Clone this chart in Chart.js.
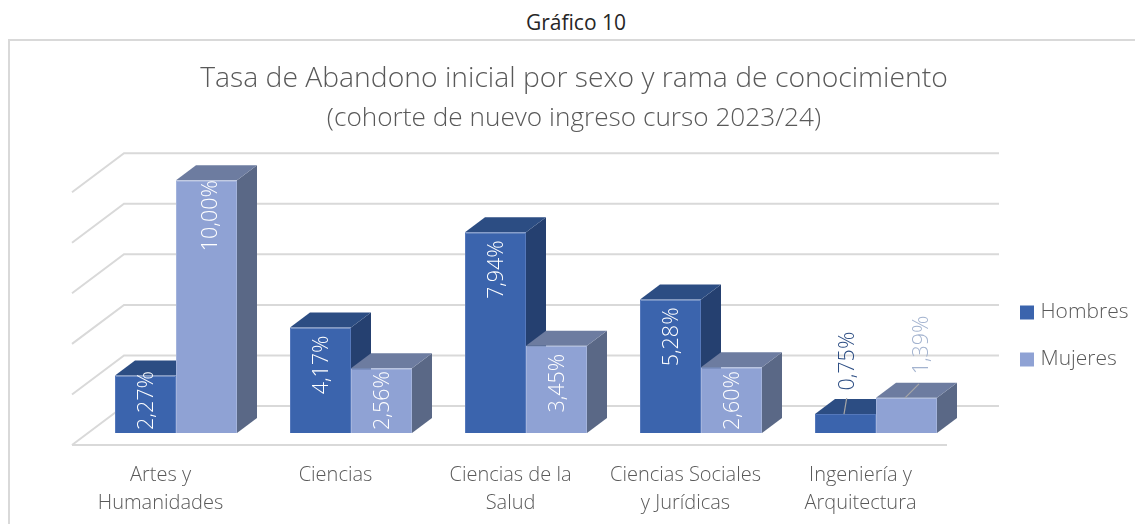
<!DOCTYPE html>
<html lang="es">
<head>
<meta charset="utf-8">
<title>Gráfico 10</title>
<script src="https://cdn.jsdelivr.net/npm/chart.js@4"></script>
<style>
  html, body { margin: 0; padding: 0; background: #fff; overflow: hidden; width: 1135px; height: 524px; }
  #caption { position: absolute; left: 476px; width: 200px; top: 8px; text-align: center; font: 21px "Open Sans", sans-serif; color: #262626; }
  #frame { position: absolute; left: 8px; top: 39px; width: 1127px; height: 485px; box-sizing: border-box; border-left: 2px solid #d9d9d9; border-top: 2px solid #d9d9d9; }
  canvas { position: absolute; left: 0; top: 0; }
</style>
</head>
<body>
<div id="frame"></div>
<div id="caption">Gráfico 10</div>
<canvas id="c" width="1135" height="524"></canvas>
<script>
const categories = [["Artes y", "Humanidades"], "Ciencias", ["Ciencias de la", "Salud"], ["Ciencias Sociales", "y Jurídicas"], ["Ingeniería y", "Arquitectura"]];
const hombres = [2.27, 4.17, 7.94, 5.28, 0.75];
const mujeres = [10.00, 2.56, 3.45, 2.60, 1.39];
const axisMax = 10;
const axisStep = 2;
const seriesNames = ["Hombres", "Mujeres"];
const titleText = "Tasa de Abandono inicial por sexo y rama de conocimiento";
const subtitleText = "(cohorte de nuevo ingreso curso 2023/24)";

const FONT = '"Open Sans", sans-serif';
const GRID = "#d9d9d9";
const front = ["#3b64ad", "#8fa2d4"];
const edge = ["#5578bb", "#a3b3dc"];
const topFace = ["#2c4d83", "#6d7ca0"];
const sideFace = ["#254070", "#5a6886"];
const outsideText = ["#2c4d83", "#a3b3cf"];
const DEPTH = { x: 20, y: -15 };          // bar depth
const WALL = { x: 35.5, y: -27 };         // bar plane to back wall
const FLOOR = { x: -16.5, y: 12 };        // bar plane to front edge of floor
const LEADER = [{ dx: 2.7, dy: -16, tx: 2.5 }, { dx: 14, dy: -14, tx: 15 }];

function face(ctx, pts, color) {
  ctx.beginPath();
  pts.forEach((p, i) => i ? ctx.lineTo(p[0], p[1]) : ctx.moveTo(p[0], p[1]));
  ctx.closePath();
  ctx.fillStyle = color;
  ctx.fill();
}

const scene3d = {
  id: "scene3d",
  afterLayout(chart) {
    // title blocks are centred on the frame, legend sits right of the plot
    chart.boxes.filter(b => b.position === "top" && b.fullSize).forEach(b => {
      const top = b.options.text === titleText ? 62 : 102.5;
      const h = b.height;
      b.left = 0; b.right = 1148; b.width = 1148;
      b.top = top; b.bottom = top + h;
    });
    const lg = chart.legend;
    lg.left = 998; lg.right = 1135; lg.width = 137;
    lg.top = 276; lg.height = 200; lg.bottom = 476;
  },
  beforeDatasetsDraw(chart) {
    const { ctx, scales: { x, y } } = chart;
    const b = [x.left + WALL.x, x.right + WALL.x];
    const f = [x.left + FLOOR.x, x.right + FLOOR.x];
    ctx.save();
    ctx.strokeStyle = GRID;
    ctx.lineWidth = 2;
    for (let v = 0; v <= axisMax; v += axisStep) {
      const py = y.getPixelForValue(v);
      ctx.beginPath();
      ctx.moveTo(f[0], py + FLOOR.y);
      ctx.lineTo(b[0], py + WALL.y);
      ctx.lineTo(b[1], py + WALL.y);
      ctx.stroke();
    }
    const zero = y.getPixelForValue(0);
    ctx.beginPath();
    ctx.moveTo(f[0], zero + FLOOR.y);
    ctx.lineTo(f[1], zero + FLOOR.y);
    ctx.stroke();
    // tops and sides of both series, left series first; the fronts are drawn over them
    chart.data.datasets.forEach((d, ds) => {
      chart.getDatasetMeta(ds).data.forEach(bar => {
        const { x: cx, y: top, base, width } = bar.getProps(["x", "y", "base", "width"], true);
        const l = cx - width / 2, r = cx + width / 2;
        face(ctx, [[r, top], [r + DEPTH.x, top + DEPTH.y], [r + DEPTH.x, base + DEPTH.y], [r, base]], sideFace[ds]);
        face(ctx, [[l, top], [r, top], [r + DEPTH.x, top + DEPTH.y], [l + DEPTH.x, top + DEPTH.y]], topFace[ds]);
      });
    });
    ctx.restore();
  },
  afterDatasetsDraw(chart) {
    const { ctx } = chart;
    ctx.save();
    ctx.font = "300 21.5px " + FONT;
    ctx.textBaseline = "middle";
    chart.data.datasets.forEach((d, ds) => {
      chart.getDatasetMeta(ds).data.forEach((bar, i) => {
        const { x, y, base } = bar.getProps(["x", "y", "base"], true);
        const v = d.data[i];
        const text = v.toFixed(2).replace(".", ",") + "%";
        const tw = ctx.measureText(text).width;
        let tx = x, bottom;
        if (v < 2) {
          const L = LEADER[ds];
          ctx.strokeStyle = "#a6a6a6";
          ctx.lineWidth = 1.2;
          ctx.beginPath();
          ctx.moveTo(x - 1.5, y);
          ctx.lineTo(x - 1.5 + L.dx, y + L.dy);
          ctx.stroke();
          tx = x + L.tx;
          bottom = y - 23.5;
          ctx.fillStyle = outsideText[ds];
        } else {
          const atMax = v >= axisMax;
          bottom = Math.min(y + (atMax ? 0 : 8) + tw, base - 3);
          ctx.fillStyle = "#ffffff";
          tx = x + (atMax ? 4.5 : 1.5);
        }
        ctx.save();
        ctx.translate(tx, bottom);
        ctx.rotate(-Math.PI / 2);
        ctx.textAlign = "left";
        ctx.fillText(text, 0, 0);
        ctx.restore();
      });
    });
    ctx.restore();
  }
};

new Chart(document.getElementById("c"), {
  type: "bar",
  data: {
    labels: categories,
    datasets: [
      { label: seriesNames[0], data: hombres, backgroundColor: front[0], borderColor: edge[0], borderWidth: 1 },
      { label: seriesNames[1], data: mujeres, backgroundColor: front[1], borderColor: edge[1], borderWidth: 1 }
    ]
  },
  options: {
    responsive: false,
    animation: false,
    layout: { padding: { top: 114.8, left: 88.5, right: 171.5, bottom: 0 } },
    datasets: { bar: { categoryPercentage: 122 / 175, barPercentage: 1 } },
    scales: {
      x: {
        grid: { display: false },
        border: { display: false },
        afterFit(s) { s.height = 91; },
        ticks: { color: "#595959", padding: 20, labelOffset: -15.5, maxRotation: 0, autoSkip: false, font: { family: FONT, size: 20, lineHeight: 1.4, weight: "300" } }
      },
      y: { display: false, min: 0, max: axisMax, ticks: { stepSize: axisStep } }
    },
    plugins: {
      tooltip: { enabled: false },
      title: { display: true, text: titleText, color: "#595959", padding: 0, font: { family: FONT, size: 28.3, weight: "300", lineHeight: 1.2 } },
      subtitle: { display: true, text: subtitleText, color: "#595959", padding: 0, font: { family: FONT, size: 26.2, weight: "300", lineHeight: 1.2 } },
      legend: {
        position: "chartArea",
        align: "start",
        labels: {
          boxWidth: 6, boxHeight: 6, padding: 26, color: "#595959",
          font: { family: FONT, size: 21, weight: "300" },
          generateLabels(chart) {
            return Chart.defaults.plugins.legend.labels.generateLabels(chart).map((it, i) => ({ ...it, strokeStyle: front[i], lineWidth: 8 }));
          }
        }
      }
    }
  },
  plugins: [scene3d]
});
</script>
</body>
</html>
